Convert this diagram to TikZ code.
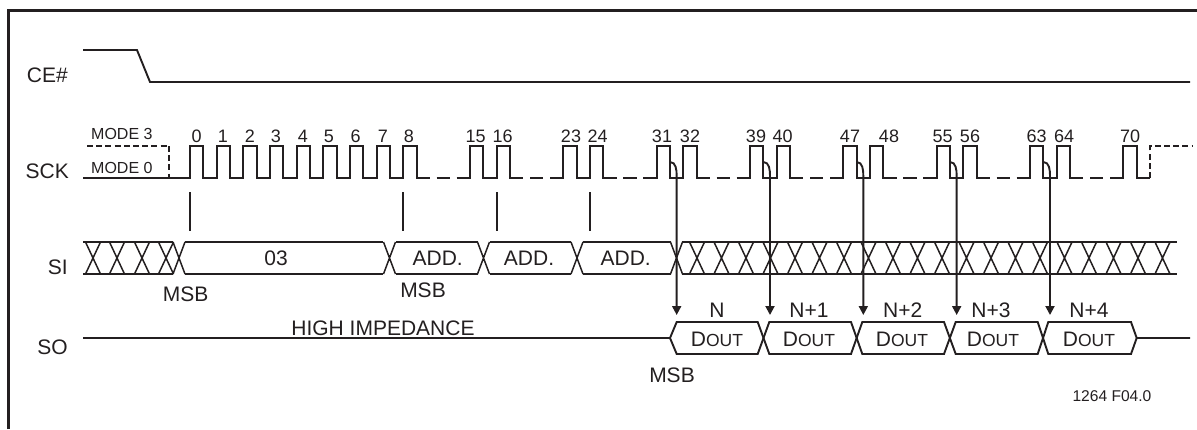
\documentclass[tikz,border=0pt]{standalone}
\usepackage{fontspec}
\setmainfont{Liberation Sans}
\usetikzlibrary{arrows.meta}
\definecolor{ink}{HTML}{231F20}
\newcommand{\fsz}[1]{\fontsize{#1pt}{#1pt}\selectfont}
\newcommand{\dout}{D{\fsz{17.5}OUT}}
\tikzset{
  sig/.style={draw=ink,line width=1.9pt,line join=miter},
  thinx/.style={draw=ink,line width=1.5pt},
  dsh/.style={draw=ink,line width=1.6pt,dash pattern=on 6pt off 3.2pt},
  frm/.style={draw=ink,line width=2.2pt},
  lab/.style={inner sep=0pt,anchor=base,text=ink,font=\fsz{21}},
  labr/.style={lab,anchor=base east},
  num/.style={lab,font=\fsz{18}},
  small/.style={lab,anchor=base west,font=\fsz{16}},
  arr/.style={sig,-{Triangle[length=9pt,width=9pt]}}
}
\begin{document}
\begin{tikzpicture}[x=1pt,y=-1pt]
\useasboundingbox (0,0) rectangle (1197,429);
% frame
\draw[frm] (8.5,429) -- (8.5,10.5) -- (1197,10.5);
% CE#
\draw[sig] (83,50) -- (137,50) -- (150,82) -- (1190,82);
\node[labr] (ce) at (68,82) {CE\#};
% SCK
\node[labr] (sck) at (69,178) {SCK};
\node[small] (m3) at (91,139) {MODE 3};
\node[small] (m0) at (91,173) {MODE 0};
\draw[sig] (83,178) -- (190,178);
\draw[dsh] (87,146) -- (168,146);
\draw[dsh] (169,146) -- (169,178);
\foreach \x in {190,216.67,243.33,270,296.67,323.33,350,376.67,403.33,
  470,496.67,563.33,590,656.67,683.33,750,776.67,843.33,870,936.67,963.33,1030,1056.67,1123.33}
  \draw[sig] (\x-13.33,178) -- (\x,178) -- (\x,146) -- (\x+13.33,146) -- (\x+13.33,178) -- (\x+26.67,178);
\foreach \x in {470,563.33,656.67,750,843.33,936.67,1030,1123.33}
  \draw[sig] (\x-33.33,178) -- (\x-20,178);
\draw[dsh] (1150,178) -- (1150,146) -- (1192,146);
% clock numbers
\foreach \t/\x in {0/196.7,1/223,2/250,3/276,4/303,5/329,6/355.7,7/383,8/409,
  15/475.7,16/502.7,23/571,24/597.7,31/662,32/690,39/756,40/782.7,
  47/850,48/889,55/942.7,56/970,63/1036.7,64/1064,70/1130}
  \node[num] (n\t) at (\x,142) {\t};
% ticks
\foreach \x [count=\i] in {190,403.33,496.67,590}{
  \coordinate (ta\i) at (\x,192);
  \coordinate (tb\i) at (\x,231);
  \draw[sig] (ta\i) -- (tb\i);
}
% SI
\node[labr] (si) at (68,274) {SI};
\draw[sig] (83,242) -- (173,242) (83,274) -- (173,274);
\foreach \c in {179,389.5,483.5,577,676.5}
  \draw[thinx] (\c-6,242) -- (\c+6,274) (\c+6,242) -- (\c-6,274);
\foreach \c in {93,117,142,166,697,721.5,746,770.5,795,819.5,844,868.5,893,917.5,942,966.5,991,1015.5,1040,1064.5,1089,1113.5,1138,1162.5}
  \draw[thinx] (\c-7.5,242) -- (\c+7.5,274) (\c+7.5,242) -- (\c-7.5,274);
\draw[sig] (185,242) -- (383,242) (185,274) -- (383,274);
\draw[sig] (396,242) -- (478,242) (396,274) -- (478,274);
\draw[sig] (489.5,242) -- (571,242) (489.5,274) -- (571,274);
\draw[sig] (583,242) -- (671,242) (583,274) -- (671,274);
\draw[sig] (682,242) -- (1177,242) (682,274) -- (1177,274);
\node[lab] (b03) at (276,265.5) {03};
\node[lab] (ad1) at (437.7,265.5) {ADD.};
\node[lab] (ad2) at (529,265.5) {ADD.};
\node[lab] (ad3) at (625.7,265.5) {ADD.};
\node[lab] (ms1) at (185.7,301.7) {MSB};
\node[lab] (ms2) at (423,297.7) {MSB};
\node[lab] (ms3) at (672,382.7) {MSB};
% SO
\node[labr] (so) at (68,354) {SO};
\node[lab] (hiz) at (383,335) {HIGH IMPEDANCE};
\draw[sig] (83,338) -- (670,338);
\draw[sig] (670,338) -- (676.7,322) -- (757.7,322) -- (769.3,354) -- (851,354) -- (862.3,322) -- (944,322) -- (955.7,354) -- (1037.7,354) -- (1048.3,322) -- (1131,322) -- (1136.7,338) -- (1190,338);
\draw[sig] (670,338) -- (676.7,354) -- (757.7,354) -- (769.3,322) -- (851,322) -- (862.3,354) -- (944,354) -- (955.7,322) -- (1037.7,322) -- (1048.3,354) -- (1131,354) -- (1136.7,338);
\foreach \x/\s/\d [count=\i] in {717/N/717,809/N+1/809,902.7/N+2/902,991/N+3/993,1089/N+4/1089}{
  \node[lab] (nl\i) at (\x,317) {\s};
  \node[lab] (dl\i) at (\d,346) {\dout};
}
% arrows
\foreach \x [count=\i] in {676.67,770,863.33,956.67,1050}{
  \coordinate (as\i) at (\x-6.67,162);
  \coordinate (am\i) at (\x,176);
  \coordinate (ae\i) at (\x,315);
  \draw[arr] (as\i) to[out=0,in=90] (am\i) -- (ae\i);
}
\node[lab,anchor=base west,font=\fsz{15.6}] (ref) at (1072.3,401) {1264 F04.0};
\end{tikzpicture}
\end{document}
